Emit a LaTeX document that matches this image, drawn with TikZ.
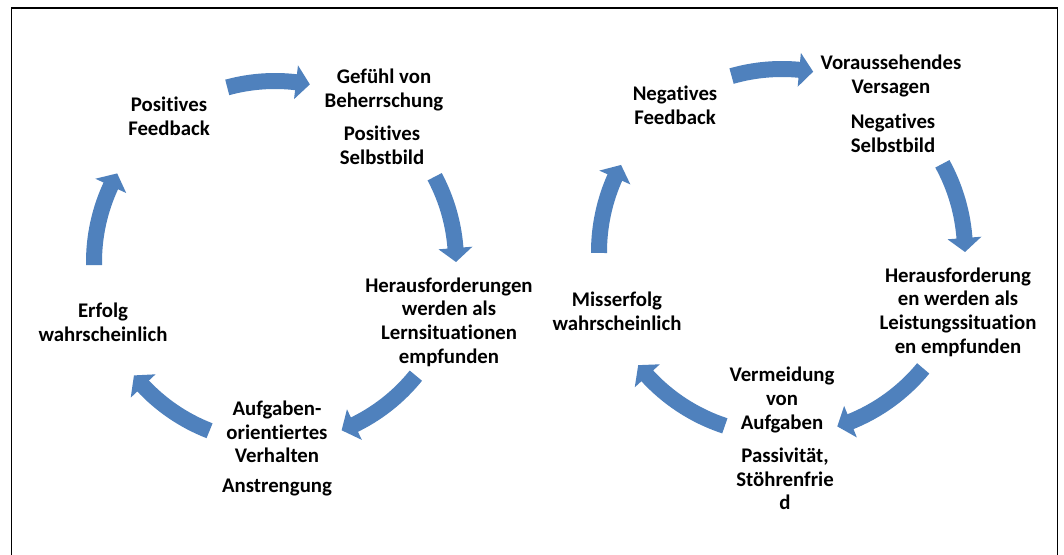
\documentclass[tikz,border=0pt]{standalone}
\usepackage{fontspec}
\setmainfont{Carlito}[Ligatures={NoCommon,NoContextual,NoRequired},Contextuals=NoAlternate]
\definecolor{cycblue}{RGB}{79,129,189}
% one curved block arrow of a cycle:
% #1 centre, #2 radius (pt), #3 tail angle, #4 tip angle (clockwise run)
\newcommand\cycarrow[4]{%
  \pgfmathsetmacro\headbase{#4+14*57.2958/#2}%
  \pgfmathsetmacro\bodyend{\headbase-0.6}%
  \pgfmathsetmacro\outr{#2+17}%
  \pgfmathsetmacro\innr{#2-17}%
  \draw[arcbody] (#1) ++(#3:#2pt) arc[start angle=#3, end angle=\bodyend, radius=#2pt];
  \fill[headfill] (#1) +(\headbase:\outr pt) -- +(#4:#2pt) -- +(\headbase:\innr pt) -- cycle;
}
\begin{document}
\begin{tikzpicture}[x=1pt,y=1pt,
  lbl/.style={align=center, inner sep=0pt, font=\bfseries\fontsize{20.8}{23.6}\selectfont},
  arcbody/.style={draw=cycblue, line width=16pt, line cap=butt},
  headfill/.style={fill=cycblue},
  frame/.style={draw=black, line width=1.6pt}]
\fill[white] (0,0) rectangle (1064,554);
\useasboundingbox (0,0) rectangle (1064,554);

% open frame (no bottom edge)
\draw[frame] (11.5,-5) -- (11.5,545.7) -- (1057.3,545.7) -- (1057.3,-5);

% cycle centres
\coordinate (c1) at (275,292);
\coordinate (c2) at (782,302);

% positive cycle
\node[lbl] (pf)  at (169,438) {Positives\\Feedback};
\node[lbl] (gv)  at (384,464) {Gefühl von\\Beherrschung};
\node[lbl] (psb) at (382,409) {Positives\\Selbstbild};
\node[lbl] (hl)  at (449,232) {Herausforderungen\\werden als\\Lernsituationen\\empfunden};
\node[lbl] (ao)  at (277,122) {Aufgaben-\\orientiertes\\Verhalten};
\node[lbl] (an)  at (277,66)  {Anstrengung};
\node[lbl] (ew)  at (103,232) {Erfolg\\wahrscheinlich};

\cycarrow{c1}{181}{105.3}{78.9}
\cycarrow{c1}{181}{28.1}{0}
\cycarrow{c1}{181}{-38.9}{-68.4}
\cycarrow{c1}{181}{-111.2}{-141.2}
\cycarrow{c1}{181}{181}{150.7}

% negative cycle
\node[lbl] (nf)  at (675,449) {Negatives\\Feedback};
\node[lbl] (vv)  at (891,478) {Voraussehendes\\Versagen};
\node[lbl] (nsb) at (893,421) {Negatives\\Selbstbild};
\node[lbl] (hs)  at (958,242) {Herausforderung\\en werden als\\Leistungssituation\\en empfunden};
\node[lbl] (va)  at (782,154) {Vermeidung\\von\\Aufgaben};
\node[lbl] (pa)  at (785,75)  {Passivität,\\Stöhrenfrie\\d};
\node[lbl] (mw)  at (617,243) {Misserfolg\\wahrscheinlich};

\cycarrow{c2}{183}{106.0}{80.2}
\cycarrow{c2}{183}{28.8}{0}
\cycarrow{c2}{183}{-39.5}{-72.4}
\cycarrow{c2}{183}{-108.2}{-141.8}
\cycarrow{c2}{183}{180.3}{151.6}
\end{tikzpicture}
\end{document}
